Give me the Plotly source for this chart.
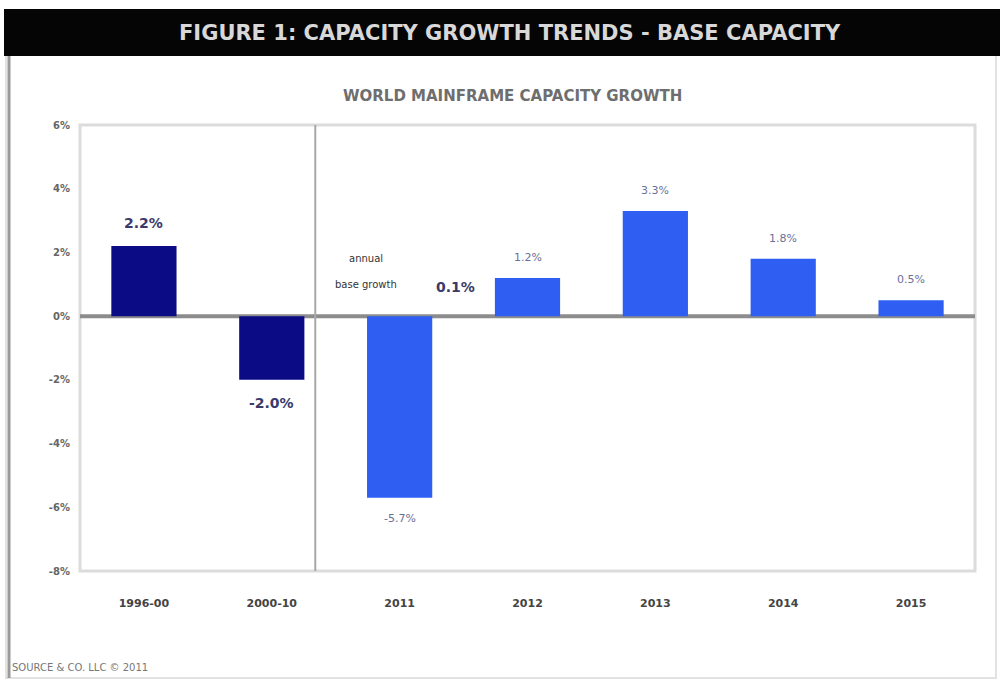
import plotly.graph_objects as go

# Capacity growth by period
periods = ["1996-00", "2000-10", "2011", "2012", "2013", "2014", "2015"]
growth = [2.2, -2.0, -5.7, 1.2, 3.3, 1.8, 0.5]
y_ticks = [6, 4, 2, 0, -2, -4, -6, -8]
y_tick_text = ["6%", "4%", "2%", "0%", "-2%", "-4%", "-6%", "-8%"]
avg_label = "0.1%"
avg_note = ["annual", "base growth"]

W, H = 1000, 681
L, R, T, B = 80, 25, 125, 110
PW, PH = W - L - R, H - T - B
FONT = "DejaVu Sans"


def px(x):
    return (x - L) / PW


def py(y):
    return (H - B - y) / PH


hist_color = "#0b0b86"
fcst_color = "#2f5ff2"
colors = [hist_color if i < 2 else fcst_color for i in range(len(periods))]
xs = list(range(len(periods)))

fig = go.Figure()
fig.add_trace(go.Bar(
    x=xs, y=growth, width=0.51,
    marker=dict(color=colors, line=dict(width=0)),
    hoverinfo="skip",
))

annotations = []
for i, v in enumerate(growth):
    big = i < 2
    txt = f"<b>{v:.1f}%</b>" if big else f"{v:.1f}%"
    annotations.append(dict(
        x=i, y=v, xref="x", yref="y", text=txt, showarrow=False,
        yanchor="bottom" if v >= 0 else "top",
        yshift=(13 if big else 12) * (1 if v >= 0 else -1),
        font=dict(family=FONT, size=14 if big else 11,
                  color="#3a3a6a" if big else "#6a6f9a"),
    ))


def note(x, y, text, size, color, anchor="center"):
    annotations.append(dict(x=px(x), y=py(y), xref="paper", yref="paper",
                            xanchor=anchor, yanchor="middle", text=text,
                            showarrow=False,
                            font=dict(family=FONT, size=size, color=color)))


# average growth note beside the 2011 bar
note(366, 258, avg_note[0], 10, "#333")
note(366, 284, avg_note[1], 10, "#333")
note(455, 287, f"<b>{avg_label}</b>", 14, "#3a3a6a")

# headings
note(510, 33, "<b>FIGURE 1: CAPACITY GROWTH TRENDS - BASE CAPACITY</b>", 21, "#d8d8d8")
note(512, 96, "<b>WORLD MAINFRAME CAPACITY GROWTH</b>", 15, "#6e6e6e")
note(10, 667, "SOURCE & CO. LLC © 2011", 10, "#777", anchor="left")

shapes = [
    # outer frame
    dict(type="rect", xref="paper", yref="paper",
         x0=px(6), x1=px(996), y0=py(678), y1=py(55),
         line=dict(color="#e2e2e2", width=2), layer="below"),
    dict(type="line", xref="paper", yref="paper",
         x0=px(9), x1=px(9), y0=py(678), y1=py(55),
         line=dict(color="#9a9a9a", width=3)),
    # title bar
    dict(type="rect", xref="paper", yref="paper",
         x0=px(4), x1=px(1000), y0=py(56), y1=py(9),
         fillcolor="#050505", line=dict(width=0)),
    # plot border
    dict(type="rect", xref="paper", yref="paper", x0=0, x1=1, y0=0, y1=1,
         line=dict(color="#dcdcdc", width=3), layer="below"),
    # history / forecast divider
    dict(type="line", xref="x", yref="paper", x0=1.34, x1=1.34, y0=0, y1=1,
         line=dict(color="#a8a8a8", width=2)),
    # zero line
    dict(type="line", xref="paper", yref="y", x0=0, x1=1, y0=0, y1=0,
         line=dict(color="#8c8c8c", width=4), layer="below"),
]

fig.update_layout(
    width=W, height=H,
    margin=dict(l=L, r=R, t=T, b=B),
    paper_bgcolor="white", plot_bgcolor="white",
    showlegend=False,
    annotations=annotations,
    shapes=shapes,
    xaxis=dict(
        range=[-0.5, 6.5], tickvals=xs,
        ticktext=[f"<b>{p}</b>" for p in periods],
        showgrid=False, zeroline=False, showline=False, ticks="",
        ticklabelstandoff=24,
        tickfont=dict(family=FONT, size=11, color="#444"),
        fixedrange=True,
    ),
    yaxis=dict(
        range=[-8, 6], tickvals=y_ticks,
        ticktext=[f"<b>{t}</b>" for t in y_tick_text],
        showgrid=False, zeroline=False, showline=False, ticks="",
        ticklabelstandoff=9,
        tickfont=dict(family=FONT, size=10, color="#666"),
        fixedrange=True,
    ),
)

fig.write_html("out.html")
